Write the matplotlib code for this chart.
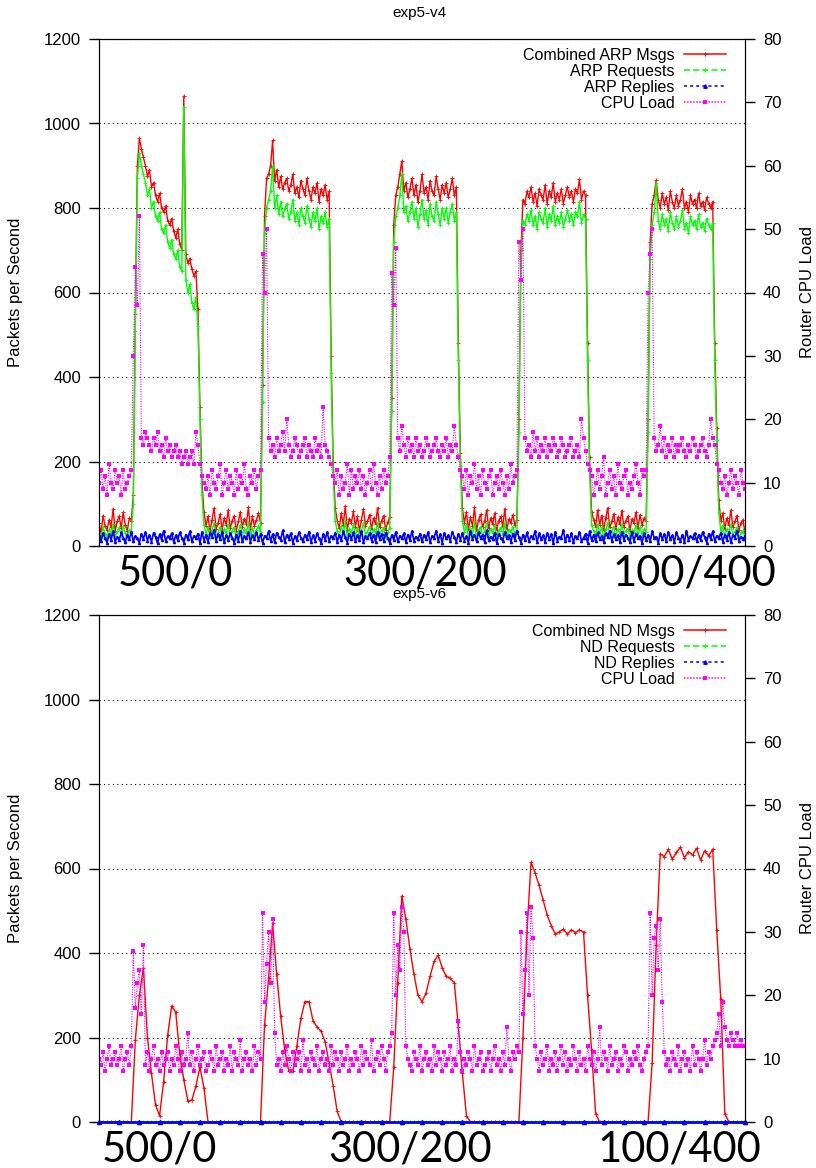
import numpy as np
import matplotlib
matplotlib.use("Agg")
import matplotlib.pyplot as plt
from matplotlib.lines import Line2D

# exp5-v4: two samples per time step (321 samples), phases 500/0 ... 100/400
arp_total = [55, 30, 72, 48, 38, 62, 45, 88, 35, 58, 70, 42, 80, 50, 36, 66, 60,
             120, 550, 900,
             965, 940, 920, 900, 875, 890, 850, 860, 830, 815, 835, 800, 790, 805, 770, 760, 775, 745, 730, 750,
             715, 700, 1065, 690, 670, 680, 655, 640, 650,
             560, 330, 150, 80,
             48, 70, 35, 62, 90, 40, 55, 75, 38, 66, 50, 85, 42, 60, 72, 36, 58, 80, 45, 65, 52, 92, 40, 70, 48, 62, 78, 55,
             380, 780,
             870, 880, 900, 960, 865, 890, 850, 875, 845, 860, 870, 840, 855, 880, 835, 850, 825, 865, 845, 830,
             870, 840, 820, 850, 835, 860, 815, 845, 830, 855, 820, 840,
             450, 200, 90,
             60, 42, 78, 50, 95, 38, 65, 55, 82, 45, 70, 36, 62, 88, 48, 58, 74, 40, 66, 52, 90, 44, 60, 72, 38, 56, 68,
             350, 760,
             830, 850, 880, 911, 840, 860, 825, 845, 870, 830, 855, 815, 840, 880, 835, 850, 820, 865, 840, 830,
             875, 845, 820, 855, 835, 860, 825, 845, 870, 830, 850,
             480, 220, 90,
             55, 80, 40, 68, 48, 92, 36, 62, 75, 45, 58, 85, 42, 66, 52, 78, 38, 60, 70, 46, 88, 40, 64, 55, 74, 50, 62,
             300, 700,
             820, 810, 840, 825, 850, 815, 835, 805, 845, 830, 820, 855, 810, 840, 825, 860, 815, 835, 820, 845,
             810, 830, 850, 825, 840, 815, 845, 835, 868, 820, 840, 830,
             480, 210, 80,
             62, 45, 85, 50, 72, 38, 66, 90, 44, 58, 76, 40, 68, 52, 84, 46, 60, 70, 36, 64, 55, 80, 42, 74, 50, 66, 58,
             300, 720,
             810, 830, 866, 820, 800, 835, 810, 825, 795, 840, 815, 800, 830, 805, 820, 845, 800, 815, 790, 830,
             810, 820, 800, 835, 805, 815, 795, 825, 810, 800, 815,
             480, 280, 110,
             60, 78, 40, 66, 50, 85, 44, 58, 72, 38, 55, 62, 30]

arp_requests = [30, 18, 45, 28, 22, 40, 26, 52, 20, 35, 44, 24, 48, 30, 20, 38, 36,
                100, 510, 870,
                930, 900, 880, 860, 830, 845, 800, 815, 780, 770, 790, 750, 740, 760, 720, 705, 725, 690, 680, 700,
                660, 650, 1040, 630, 600, 620, 575, 560, 590,
                520, 300, 120, 50,
                28, 44, 20, 38, 55, 22, 32, 46, 20, 40, 30, 52, 24, 36, 44, 18, 34, 50, 26, 40, 30, 56, 22, 42, 28, 38, 48, 32,
                340, 740,
                800, 820, 840, 900, 800, 830, 785, 815, 780, 800, 810, 775, 790, 820, 770, 790, 760, 800, 780, 765,
                805, 775, 755, 790, 770, 800, 750, 780, 765, 790, 755, 775,
                410, 170, 60,
                35, 22, 48, 28, 58, 20, 40, 32, 50, 25, 42, 18, 36, 54, 26, 34, 46, 22, 40, 30, 56, 24, 36, 44, 20, 32, 42,
                320, 720,
                780, 800, 830, 880, 790, 805, 770, 790, 815, 775, 800, 755, 785, 820, 775, 795, 760, 810, 780, 770,
                815, 785, 760, 800, 775, 800, 765, 790, 810, 770, 790,
                440, 190, 60,
                32, 50, 22, 42, 28, 58, 20, 38, 46, 25, 34, 54, 22, 40, 30, 48, 20, 36, 44, 26, 55, 22, 38, 32, 46, 28, 36,
                270, 660,
                770, 760, 785, 770, 795, 760, 780, 750, 790, 775, 765, 800, 755, 785, 770, 805, 760, 780, 765, 790,
                755, 775, 795, 770, 785, 760, 790, 780, 815, 765, 785, 775,
                440, 180, 50,
                36, 25, 52, 28, 44, 20, 40, 56, 24, 34, 46, 22, 40, 30, 52, 26, 36, 42, 20, 38, 32, 50, 24, 44, 28, 40, 34,
                270, 680,
                760, 790, 858, 770, 750, 785, 760, 775, 745, 790, 765, 750, 780, 755, 770, 795, 750, 765, 740, 780,
                760, 770, 750, 785, 755, 765, 745, 775, 760, 750, 765,
                440, 250, 80,
                36, 48, 22, 40, 30, 52, 26, 34, 44, 20, 32, 38, 18]

arp_replies = [25, 12, 30, 18, 8, 28, 15, 35, 10, 22, 14, 32, 20, 9, 27, 16, 34, 11, 24, 19,
               7, 29, 17, 33, 13, 26, 10, 31, 21, 6, 28, 15, 36, 12, 23, 18, 30, 9, 25, 14,
               32, 20, 8, 27, 16, 35, 11, 24, 19, 29, 7, 33, 13, 26, 10, 31, 22, 38, 12, 28,
               17, 34, 9, 25, 15, 30, 20, 8, 27, 13, 36, 11, 23, 18, 32, 10, 26, 16, 33, 14,
               29, 7, 24, 19, 35, 12, 28, 9, 31, 21, 15, 37, 10, 26, 17, 30, 8, 23, 14, 32,
               20, 11, 27, 16, 34, 9, 25, 13, 30, 18, 7, 28, 15, 33, 12, 24, 19, 31, 10, 26,
               14, 35, 21, 8, 29, 17, 32, 11, 25, 15, 36, 9, 23, 19, 30, 13, 27, 10, 34, 16,
               28, 12, 31, 20, 7, 26, 15, 33, 11, 24, 18, 30, 9, 27, 14, 35, 13, 22, 17, 29,
               11, 26, 16, 33, 9, 24, 20, 36, 13, 28, 8, 31, 18, 25, 12, 34, 21, 10, 29, 15,
               30, 13, 23, 8, 35, 17, 27, 11, 32, 19, 26, 9, 37, 14, 22, 16, 31, 7, 28, 20,
               12, 33, 18, 26, 10, 29, 15, 36, 21, 8, 27, 14, 32, 11, 24, 19, 35, 9, 30, 16,
               25, 10, 31, 17, 28, 7, 34, 13, 22, 20, 38, 11, 27, 15, 30, 9, 24, 18, 33, 12,
               19, 29, 8, 35, 14, 26, 11, 32, 17, 23, 9, 30, 21, 36, 12, 28, 16, 25, 10, 34,
               15, 27, 20, 9, 33, 12, 29, 18, 24, 7, 31, 14, 26, 11, 35, 19, 22, 8, 30, 17,
               28, 11, 34, 16, 25, 10, 32, 20, 13, 27, 9, 36, 15, 23, 18, 30, 12, 26, 14, 33,
               21, 8, 29, 17, 35, 12, 24, 19, 31, 10, 27, 15, 33, 9, 26, 20, 36, 13, 22, 16,
               24]

cpu_v4 = [10, 12, 9, 11, 8, 13, 10, 9, 12, 10, 11, 8, 12, 9, 10, 11, 12,
          30, 44, 38,
          52, 17, 16, 18, 17, 16, 15, 17, 16, 18, 15, 16, 14, 17, 15, 16, 14, 15, 16, 14,
          15, 13, 14, 15, 13, 14, 15, 13, 18,
          16, 13, 11, 10,
          9, 11, 8, 12, 10, 9, 11, 13, 8, 10, 12, 9, 11, 10, 8, 12, 9, 11, 10, 13, 9, 8, 11, 10, 12, 9, 11, 12,
          46, 40,
          50, 17, 15, 16, 14, 17, 15, 16, 18, 15, 20, 16, 14, 15, 17, 16, 14, 15, 16, 17,
          14, 16, 15, 14, 17, 15, 16, 14, 22, 16, 15, 14,
          13, 11, 10,
          12, 8, 11, 9, 10, 13, 8, 12, 9, 11, 10, 12, 9, 11, 8, 10, 12, 9, 13, 10, 8, 11, 9, 12, 10, 11, 14,
          43, 38,
          47, 17, 15, 19, 16, 14, 17, 15, 16, 14, 17, 15, 16, 14, 15, 17, 16, 14, 15, 16,
          17, 15, 14, 16, 15, 17, 14, 16, 15, 19, 16,
          14, 12, 11,
          9, 12, 8, 11, 10, 13, 9, 11, 8, 12, 10, 9, 11, 12, 8, 10, 11, 9, 12, 10, 8, 11, 9, 13, 10, 11, 12,
          48, 42,
          50, 17, 15, 16, 14, 18, 15, 17, 14, 16, 15, 17, 14, 16, 15, 17, 16, 14, 15, 17,
          16, 14, 15, 16, 17, 14, 15, 16, 14, 20, 17, 15,
          13, 12, 11,
          8, 10, 12, 9, 11, 14, 8, 10, 12, 9, 11, 8, 13, 10, 9, 11, 12, 8, 10, 9, 11, 13, 10, 8, 12, 11, 12,
          40, 46,
          50, 17, 15, 16, 19, 15, 17, 14, 16, 15, 17, 14, 16, 15, 16, 17, 15, 14, 16, 15,
          17, 16, 14, 15, 16, 17, 15, 14, 16, 20, 17,
          16, 13, 12,
          10, 9, 11, 8, 10, 12, 9, 11, 10, 8, 12, 10, 9]

# exp5-v6: ND messages, one sample per time step (161 samples)
nd_total = [0, 0, 0, 0, 0, 0, 0, 0, 0,
            195, 300, 365, 200, 115, 40, 15, 95, 205, 275, 260, 160, 100, 50, 52, 85, 130, 80, 0,
            0, 0, 0, 0, 0, 0, 0, 0, 0, 0, 0, 0, 0,
            230, 340, 470, 350, 250, 170, 120, 120, 180, 245, 285, 285, 240, 225, 215, 190, 140, 85, 25, 0,
            0, 0, 0, 0, 0, 0, 0, 0, 0, 0, 0, 0,
            130, 330, 535, 480, 410, 350, 300, 285, 305, 345, 380, 395, 365, 345, 340, 330, 225, 115, 15, 0,
            0, 0, 0, 0, 0, 0, 0, 0, 0, 0, 0, 0,
            200, 450, 615, 590, 560, 525, 490, 465, 445, 450, 456, 445, 455, 448, 455, 450, 300, 170, 20, 0,
            0, 0, 0, 0, 0, 0, 0, 0, 0, 0, 0, 0,
            140, 420, 635, 628, 645, 622, 638, 650, 625, 640, 632, 648, 620, 642, 630, 646, 455, 290, 20,
            0, 0, 0, 0, 0]

# ND requests / replies sit on zero for the whole run
nd_requests = [0] * len(nd_total)
nd_replies = [0] * len(nd_total)

# CPU load during exp5-v6, two samples per time step
cpu_v6 = [10, 9, 11, 8, 10, 12, 9, 10, 11, 9, 10, 12, 8, 10, 11, 9, 12,
          27, 18, 22, 24, 17, 28,
          9, 11, 8, 10, 12, 9, 10, 8, 11, 9, 10, 11, 8, 10, 9, 12, 10, 8, 11, 9,
          10, 14, 9, 11, 8, 10, 12, 9, 10, 11, 8, 9, 11, 10, 8, 12, 9, 10, 11, 8,
          10, 9, 12, 8, 11, 10, 9, 13, 8, 10, 11, 9, 10, 8, 12, 9, 11, 10,
          33, 19, 25, 30, 22, 32, 14,
          9, 10, 8, 11, 9, 12, 10, 8, 11, 9, 10, 11, 8, 13, 9, 10, 8, 11, 10, 9,
          12, 8, 10, 11, 9, 10, 8, 12, 9, 11, 10, 8, 11, 9, 10, 12, 8, 10, 9, 11,
          10, 8, 12, 9, 11, 10, 9, 13, 8, 10, 11, 9, 12, 10, 8, 11, 12, 14,
          33, 20, 28, 24, 34, 30, 12,
          10, 9, 8, 11, 10, 9, 12, 8, 10, 11, 9, 10, 8, 12, 9, 11, 10, 8, 11, 9,
          10, 12, 8, 10, 9, 16, 11, 8, 10, 9, 11, 10, 8, 12, 9, 10, 11, 8, 9, 10,
          11, 8, 10, 12, 9, 10, 8, 11, 9, 15, 10, 8, 11, 10, 12, 11,
          30, 17, 24, 33, 20, 34, 29, 12,
          10, 8, 11, 9, 10, 12, 8, 10, 9, 11, 8, 10, 12, 9, 11, 8, 10, 9, 12, 10,
          8, 11, 9, 10, 8, 12, 10, 9, 11, 8, 10, 15, 9, 11, 10, 8, 12, 9, 10, 11,
          8, 10, 9, 12, 11, 8, 10, 9, 11, 10, 12, 9, 8, 10, 11, 12,
          33, 20, 29, 31, 24, 32, 19, 11,
          9, 10, 8, 11, 10, 9, 12, 8, 10, 11, 9, 10, 8, 12, 9, 11, 10, 8, 10, 13, 9, 11, 10, 12,
          13, 14, 17, 12, 19, 15, 13, 12, 14, 13, 12, 14, 12, 13, 12, 12]

for s in (arp_total, arp_requests, arp_replies, cpu_v4, cpu_v6):
    assert len(s) == 321, len(s)
assert len(nd_total) == 161

phase_labels = ["500/0", "300/200", "100/400"]

plt.rcParams['font.family'] = ['Liberation Sans', 'DejaVu Sans']

W, H = 816, 1168
fig = plt.figure(figsize=(W / 100, H / 100), dpi=100)

RED, GREEN, BLUE, MAGENTA = '#ff0000', '#00ff00', '#0000ff', '#ff00ff'


def make_panel(rect, series, labels, zero_replies=False):
    ax = fig.add_axes(rect)
    (xr, yr), (xg, yg), (xb, yb), (xc, yc) = series
    ax.plot(xr, yr, color=RED, lw=1.0, marker='+', ms=2.2, mew=0.6)
    ax.plot(xg, yg, color=GREEN, lw=1.0, marker='+', ms=2.2, mew=0.6)
    ax.set_xlim(0, 160)
    ax.set_ylim(0, 1200)
    ax.set_yticks(range(0, 1201, 200))
    ax.set_xticks([])
    ax.yaxis.grid(True, ls=(0, (1, 3)), color='black', lw=0.8)
    ax.set_axisbelow(True)
    ax.tick_params(axis='y', direction='out', length=7, width=1, labelsize=12, pad=6)

    ax2 = ax.twinx()
    ax2.set_ylim(0, 80)
    ax2.set_xlim(0, 160)
    if zero_replies:
        # the replies trace lies on the x axis, drawn over the frame line
        ax2.spines['bottom'].set_visible(False)
        ax.plot(xb, yb, color=BLUE, lw=2.0, marker='^', ms=3, markevery=5, clip_on=False, zorder=3)
    else:
        ax.plot(xb, yb, color=BLUE, lw=1.2, marker='^', ms=1.6)
    ax2.plot(xc, yc, color=MAGENTA, lw=0.8, ls=(0, (1, 1.2)), marker='s', ms=2.6, mew=0)
    ax2.set_yticks(range(0, 81, 10))
    ax2.tick_params(axis='y', direction='out', length=7, width=1, labelsize=12, pad=6)

    # legend keys in gnuplot's line styles
    keys = [Line2D([], [], color=RED, lw=1.1, marker='+', ms=3, mew=0.7),
            Line2D([], [], color=GREEN, lw=1.1, ls=(0, (4, 2)), marker='+', ms=3, mew=0.7),
            Line2D([], [], color=BLUE, lw=1.1, ls=(0, (2, 2)), marker='^', ms=2.5),
            Line2D([], [], color=MAGENTA, lw=1.1, ls=(0, (1, 1)), marker='s', ms=3, mew=0)]
    ax2.legend(keys, labels, loc='upper right', bbox_to_anchor=(0.9874, 1.0048),
               frameon=False, markerfirst=False, fontsize=11.5, handlelength=2.6,
               handletextpad=0.6, labelspacing=0.06, borderaxespad=0.3, numpoints=1)

    cy = rect[1] + rect[3] / 2
    fig.text(16 / W, cy, "Packets per Second", rotation=90, ha='center', va='center', fontsize=12)
    fig.text(808 / W, cy, "Router CPU Load", rotation=90, ha='center', va='center', fontsize=12)
    return ax, ax2


x_fine = np.arange(321) / 2
x_coarse = np.arange(161)

top_rect = [99 / W, 1 - 546 / H, 646 / W, 507 / H]
bot_rect = [99 / W, 1 - 1122 / H, 646 / W, 507 / H]

make_panel(top_rect,
           [(x_fine, arp_total), (x_fine, arp_requests), (x_fine, arp_replies), (x_fine, cpu_v4)],
           ["Combined ARP Msgs", "ARP Requests", "ARP Replies", "CPU Load"])
make_panel(bot_rect,
           [(x_coarse, nd_total), (x_coarse, nd_requests), (x_coarse, nd_replies), (x_fine, cpu_v6)],
           ["Combined ND Msgs", "ND Requests", "ND Replies", "CPU Load"], zero_replies=True)

fig.text(419 / W, 1 - 13 / H, "exp5-v4", ha='center', va='center', fontsize=11)
fig.text(419 / W, 1 - 594 / H, "exp5-v6", ha='center', va='center', fontsize=11)

# big phase annotations under each panel
for lefts, base in (([118, 343, 613], 585), ([102, 328, 598], 1161)):
    for lab, lx in zip(phase_labels, lefts):
        fig.text(lx / W, 1 - base / H, lab, ha='left', va='baseline', fontsize=30,
                 family=['Lato', 'DejaVu Sans'])

fig.savefig("out.png", dpi=100)
